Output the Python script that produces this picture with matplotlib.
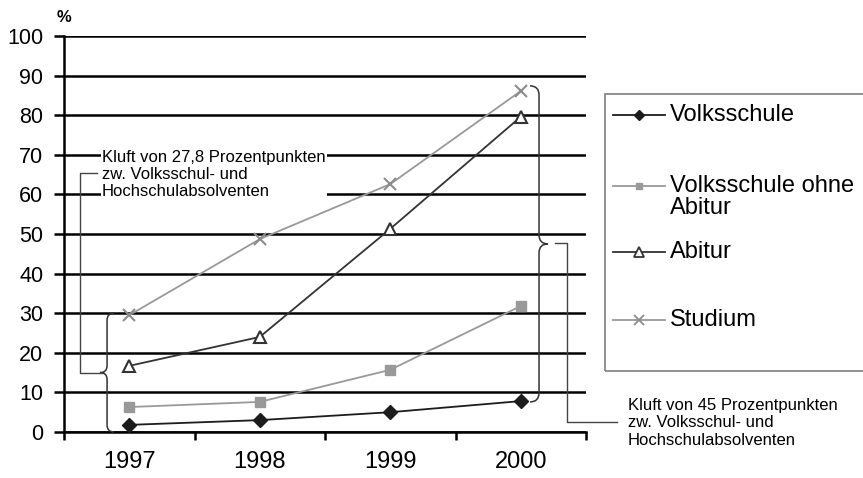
import matplotlib.pyplot as plt
from matplotlib.path import Path
from matplotlib.patches import PathPatch, Rectangle
from matplotlib.lines import Line2D
from matplotlib.transforms import IdentityTransform

plt.rcParams['font.family'] = ['Liberation Sans', 'DejaVu Sans']

# Daten
years = ['1997', '1998', '1999', '2000']
volksschule = [1.8, 3.0, 5.0, 7.8]
volksschule_ohne_abitur = [6.3, 7.6, 15.7, 31.8]
abitur = [16.7, 24.0, 51.3, 79.6]
studium = [29.5, 48.7, 62.6, 86.1]

W, H = 863, 478
fig = plt.figure(figsize=(W / 100, H / 100), dpi=100)
ax = fig.add_axes([64 / W, (H - 432) / H, 522 / W, 396 / H])

x = range(len(years))
ax.plot(x, volksschule, color='#1c1c1c', lw=1.3, marker='D', ms=7,
        mfc='#1c1c1c', mec='#1c1c1c', zorder=5)
ax.plot(x, volksschule_ohne_abitur, color='#999999', lw=1.3, marker='s', ms=7,
        mfc='#999999', mec='#999999', zorder=5)
ax.plot(x, abitur, color='#333333', lw=1.3, marker='^', ms=8.5,
        mfc='white', mec='#333333', mew=1.5, zorder=5)
ax.plot(x, studium, color='#999999', lw=1.3, marker='x', ms=8,
        mec='#8c8c8c', mew=1.5, zorder=5)

# Achsen
ax.set_xlim(-0.5, 3.5)
ax.set_ylim(0, 100)
ax.set_yticks(range(0, 101, 10))
ax.yaxis.grid(True, color='black', lw=1.8)
ax.set_axisbelow(True)
ax.set_xticks([-0.5, 0.5, 1.5, 2.5, 3.5])
ax.set_xticklabels([])
ax.set_xticks(list(x), minor=True)
ax.set_xticklabels(years, minor=True, fontsize=17)
ax.tick_params(axis='x', which='major', length=6, width=1.8, direction='out')
ax.tick_params(axis='x', which='minor', length=0, pad=14)
ax.tick_params(axis='y', length=7, width=1.8, labelsize=15.5, pad=8)
for s in ['top', 'right']:
    ax.spines[s].set_visible(False)
for s in ['left', 'bottom']:
    ax.spines[s].set_linewidth(1.8)
fig.text(57 / W, 1 - 17 / H, '%', fontsize=12, fontweight='bold', va='center')


# geschweifte Klammern
def brace(xd, y0, y1, w, side):
    (xp, p0), (_, p1) = ax.transData.transform([[xd, y0], [xd, y1]])
    pm = (p0 + p1) / 2
    r = w
    k = side
    codes = [Path.MOVETO, Path.CURVE3, Path.CURVE3, Path.LINETO,
             Path.CURVE3, Path.CURVE3, Path.LINETO, Path.CURVE3, Path.CURVE3,
             Path.LINETO, Path.CURVE3, Path.CURVE3, Path.LINETO]
    verts = [(xp - k * w, p1), (xp, p1), (xp, p1 - r),
             (xp, pm + r), (xp, pm), (xp + k * w, pm),
             (xp + k * w, pm), (xp, pm), (xp, pm - r),
             (xp, p0 + r), (xp, p0), (xp - k * w, p0), (xp - k * w, p0)]
    ax.add_patch(PathPatch(Path(verts, codes), transform=IdentityTransform(),
                           fill=False, ec='#333333', lw=1.1, clip_on=False, zorder=6))


brace(3.14, 7.6, 87.4, 9, 1)
brace(-0.17, 0, 30, 7, -1)

# Verbindungslinien
ax.plot([-0.21, -0.377, -0.377, -0.25], [15, 15, 65.4, 65.4],
        color='#444444', lw=1, clip_on=False, zorder=6)
ax.plot([3.26, 3.353, 3.353, 3.736], [47.7, 47.7, 2.5, 2.5],
        color='#444444', lw=1, clip_on=False, zorder=6)

ax.text(-0.209, 65.0, 'Kluft von 27,8 Prozentpunkten\nzw. Volksschul- und\nHochschulabsolventen',
        fontsize=12, va='center', ha='left', zorder=4,
        bbox=dict(facecolor='white', edgecolor='none', pad=1))
ax.text(3.82, 2.3, 'Kluft von 45 Prozentpunkten\nzw. Volksschul- und\nHochschulabsolventen',
        fontsize=12, va='center', ha='left')


# Legende
def px(xx, yy):
    return xx / W, 1 - yy / H


fig.patches.append(Rectangle(px(605, 371), 300 / W, 277 / H, transform=fig.transFigure,
                             fill=False, ec='#888888', lw=1.3))
legend_rows = [
    (115, 115, 'Volksschule', dict(color='#1c1c1c', marker='D', ms=5, mfc='#1c1c1c', mec='#1c1c1c')),
    (186, 197, 'Volksschule ohne\nAbitur', dict(color='#999999', marker='s', ms=5, mfc='#999999', mec='#999999')),
    (252, 252, 'Abitur', dict(color='#333333', marker='^', ms=6.5, mfc='white', mec='#333333', mew=1.3)),
    (320, 320, 'Studium', dict(color='#999999', marker='x', ms=6.5, mec='#8c8c8c', mew=1.3)),
]
for yy, ty, lab, st in legend_rows:
    x0, y0 = px(613, yy)
    x1, _ = px(665, yy)
    fig.add_artist(Line2D([x0, (x0 + x1) / 2, x1], [y0, y0, y0], transform=fig.transFigure,
                          lw=1.3, markevery=[1], **st))
    fig.text(670 / W, 1 - ty / H, lab, fontsize=17, va='center', linespacing=1.05)

plt.savefig('out.png', dpi=100)
